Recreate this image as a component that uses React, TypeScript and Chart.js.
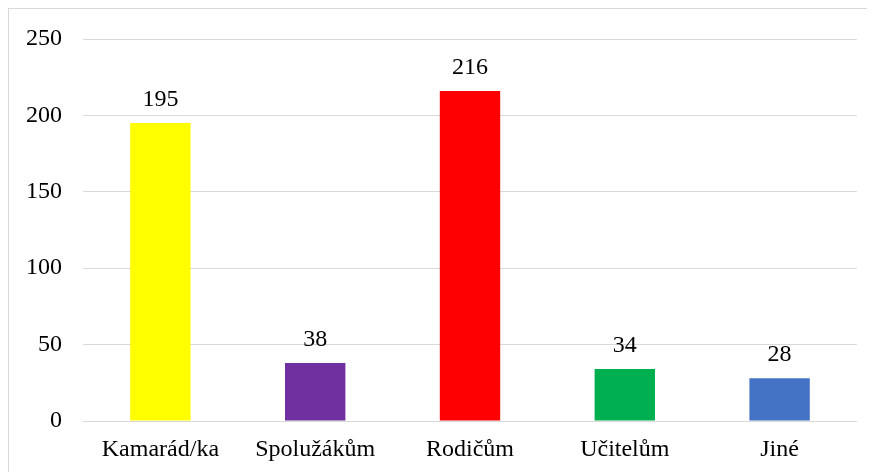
import React, { useEffect, useRef } from "react";
import { Chart, registerables } from "chart.js";

Chart.register(...registerables);

const categories = ["Kamarád/ka", "Spolužákům", "Rodičům", "Učitelům", "Jiné"];
const values = [195, 38, 216, 34, 28];
const barColors = ["#FFFF00", "#7030A0", "#FF0000", "#00B050", "#4472C4"];
const yTicks = [0, 50, 100, 150, 200, 250];

const FONT = "'Liberation Serif', 'Times New Roman', serif";

const valueLabels = {
  id: "valueLabels",
  afterDatasetsDraw(chart: any) {
    const ctx = chart.ctx;
    const meta = chart.getDatasetMeta(0);
    ctx.save();
    ctx.font = `24px ${FONT}`;
    ctx.fillStyle = "#000";
    ctx.textAlign = "center";
    ctx.textBaseline = "alphabetic";
    meta.data.forEach((bar: any, i: number) => {
      ctx.fillText(String(values[i]), bar.x, bar.y - 17);
    });
    ctx.restore();
  },
};

export default function App() {
  const ref = useRef<HTMLCanvasElement | null>(null);
  useEffect(() => {
    if (!ref.current) return;
    const chart = new Chart(ref.current, {
      type: "bar",
      data: {
        labels: categories,
        datasets: [
          {
            data: values,
            backgroundColor: barColors,
            borderWidth: 0,
            barPercentage: 0.39,
            categoryPercentage: 1,
          },
        ],
      },
      options: {
        animation: false,
        responsive: false,
        maintainAspectRatio: false,
        layout: { padding: { top: 30, right: 18, left: 0, bottom: 0 } },
        plugins: { legend: { display: false }, tooltip: { enabled: false } },
        scales: {
          x: {
            grid: { display: false },
            border: { display: false },
            afterFit(scale: any) {
              scale.height = 51;
              scale.paddingLeft = 0;
              scale.paddingRight = 0;
            },
            ticks: {
              color: "#000",
              font: { family: FONT, size: 24 },
              padding: 6,
              maxRotation: 0,
              autoSkip: false,
            },
          },
          y: {
            min: 0,
            max: 250,
            afterBuildTicks(scale: any) {
              scale.ticks = yTicks.map((v) => ({ value: v }));
            },
            afterFit(scale: any) {
              scale.width = 74;
              scale.paddingTop = 0;
              scale.paddingBottom = 0;
            },
            grid: { color: "#d9d9d9", lineWidth: 1, drawTicks: false },
            border: { display: false },
            ticks: {
              color: "#000",
              font: { family: FONT, size: 24 },
              padding: 21,
            },
          },
        },
      },
      plugins: [valueLabels],
    });
    return () => chart.destroy();
  }, []);
  return (
    <div
      style={{
        width: 866,
        height: 463,
        borderTop: "1px solid #d9d9d9",
        borderLeft: "1px solid #d9d9d9",
        background: "#fff",
      }}
    >
      <canvas ref={ref} width={866} height={463} style={{ display: "block" }} />
    </div>
  );
}
